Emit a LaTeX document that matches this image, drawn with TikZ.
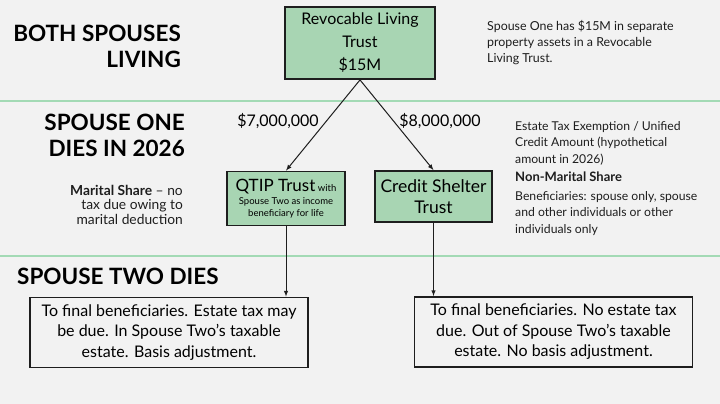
\documentclass[tikz,border=0pt]{standalone}
\usepackage{fontspec}
\setmainfont{Lato}
\usetikzlibrary{positioning, arrows}
\definecolor{sheet}{HTML}{F2F2F2}
\definecolor{trustfill}{HTML}{A8D5B3}
\definecolor{rulegreen}{HTML}{A3DAB5}
\definecolor{ink}{HTML}{1E1E1E}

\begin{document}
\begin{tikzpicture}[x=1pt, y=-1pt, >=latex,
    trust/.style={draw=ink, line width=1.8pt, fill=trustfill, align=center, inner sep=0pt},
    outcome/.style={draw=ink, line width=1.8pt, align=center, inner sep=0pt,
      minimum width=278, minimum height=70, font=\fontsize{16}{20.5}\selectfont},
    stage/.style={font=\bfseries\fontsize{22.5}{26}\selectfont, align=right, inner sep=0pt},
    note/.style={align=left, anchor=north west, inner sep=0pt, text=ink},
    amount/.style={font=\fontsize{16}{18}\selectfont, inner sep=0pt},
    flow/.style={->, line width=1pt, ink}]
    \useasboundingbox (0,0) rectangle (720,404);
    \fill[sheet] (0,0) rectangle (720,404);
    \draw[rulegreen, line width=2pt] (0,101) -- (720,101);
    \draw[rulegreen, line width=2pt] (0,256) -- (720,256);

    % stages
    \node[stage, anchor=north east] (living) at (181,25) {BOTH SPOUSES\\LIVING};
    \node[stage, anchor=north east] (firstdeath) at (185,114) {SPOUSE ONE\\DIES IN 2026};
    \node[stage, anchor=north west] (seconddeath) at (17,268) {SPOUSE TWO DIES};

    % trusts
    \node[trust, minimum width=150, minimum height=72, font=\fontsize{16}{23}\selectfont] (rlt) at (360,43) {Revocable Living\\Trust\\\$15M};
    \node[trust, minimum width=118, minimum height=54] (qtip) at (286,198.5)
      {{\fontsize{17}{18}\selectfont QTIP Trust} {\fontsize{9.5}{10}\selectfont with}\\[1pt]
       {\fontsize{9.5}{13}\selectfont Spouse Two as income}\\{\fontsize{9.5}{13}\selectfont beneficiary for life}};
    \node[trust, minimum width=117, minimum height=51, font=\fontsize{17.5}{21}\selectfont] (cst) at (433.5,196.5) {Credit Shelter\\Trust};

    \node[outcome] (final1) at (169,332.5) {To final beneficiaries. Estate tax may\\be due. In Spouse Two's taxable\\estate. Basis adjustment.};
    \node[outcome] (final2) at (553.5,332) {To final beneficiaries. No estate tax\\due. Out of Spouse Two's taxable\\estate. No basis adjustment.};

    \draw[flow] (rlt.south) -- (qtip.north);
    \draw[flow] (rlt.south) -- (cst.north);
    \node[amount] (share1) at (278,121) {\$7,000,000};
    \node[amount] (share2) at (440,121) {\$8,000,000};
    \draw[flow] (qtip.south) -- (qtip.south |- final1.north);
    \draw[flow] (cst.south) -- (cst.south |- final2.north);

    % notes
    \node[note, font=\fontsize{12.4}{16}\selectfont] (assets) at (487,20) {Spouse One has \$15M in separate\\property assets in a Revocable\\Living Trust.};
    \node[note, font=\fontsize{12.2}{16.5}\selectfont] (exemption) at (515,121)
      {Estate Tax Exemption / Unified\\Credit Amount (hypothetical\\amount in 2026)\\[2pt]
       {\fontsize{13}{16}\selectfont\bfseries Non-Marital Share}\\[2pt]
       Beneficiaries: spouse only, spouse\\and other individuals or other\\individuals only};
    \node[note, anchor=north east, align=right, font=\fontsize{13.8}{14.5}\selectfont] (marital) at (183,185)
      {\textbf{Marital Share} -- no\\tax due owing to\\marital deduction};
\end{tikzpicture}
\end{document}
